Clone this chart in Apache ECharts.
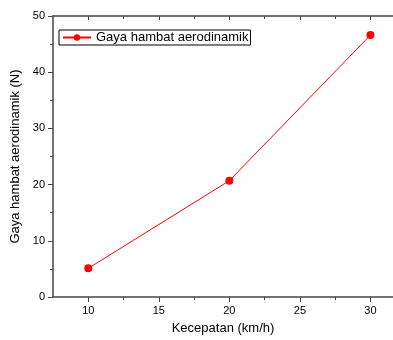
<!DOCTYPE html>
<html>
<head>
<meta charset="utf-8">
<script src="https://cdn.jsdelivr.net/npm/echarts@6/dist/echarts.min.js"></script>
<style>
  html, body { margin: 0; padding: 0; background: #fff; }
  #chart { width: 393px; height: 340px; }
</style>
</head>
<body>
<div id="chart"></div>
<script>
// data
var speed = [10, 20, 30];
var drag = [5.1, 20.7, 46.6];
var xMajorTicks = [10, 15, 20, 25, 30];
var xMinorTicks = [12.5, 17.5, 22.5, 27.5];
var seriesName = 'Gaya hambat aerodinamik';

var chart = echarts.init(document.getElementById('chart'));
var axisColor = '#444';
var font = 'Arial, "Liberation Sans", sans-serif';
var xMin = 7.5, xMax = 31.6; // plot is cut at the right edge of the image

chart.setOption({
  animation: false,
  grid: { left: 53, top: 16, bottom: 41, right: 0 },
  legend: {
    show: true,
    left: 59,
    top: 30,
    data: [seriesName],
    orient: 'horizontal',
    itemWidth: 28,
    itemHeight: 8,
    padding: [1, 2, 1, 3],
    borderColor: '#000',
    borderWidth: 1,
    borderRadius: 0,
    textStyle: { fontFamily: font, fontSize: 13, color: '#000' }
  },
  xAxis: [
    {
      // bottom axis, major ticks + labels
      type: 'value',
      min: xMin,
      max: xMax,
      position: 'bottom',
      name: 'Kecepatan (km/h)',
      nameLocation: 'middle',
      nameGap: 25,
      nameTextStyle: { fontFamily: font, fontSize: 13, color: '#000' },
      axisLine: { show: true, onZero: false, lineStyle: { color: axisColor, width: 1.5 } },
      axisTick: { show: true, length: 5, customValues: xMajorTicks, lineStyle: { color: axisColor } },
      axisLabel: { customValues: xMajorTicks, fontFamily: font, fontSize: 11, color: '#000', margin: 8 },
      splitLine: { show: false }
    },
    {
      // bottom axis, minor ticks
      type: 'value',
      min: xMin,
      max: xMax,
      position: 'bottom',
      axisLine: { show: false, onZero: false },
      axisTick: { show: true, length: 3, customValues: xMinorTicks, lineStyle: { color: axisColor } },
      axisLabel: { show: false },
      splitLine: { show: false }
    },
    {
      // top frame, inward ticks
      type: 'value',
      min: xMin,
      max: xMax,
      position: 'top',
      axisLine: { show: true, onZero: false, lineStyle: { color: axisColor, width: 1.5 } },
      axisTick: { show: true, inside: true, length: 4, customValues: xMajorTicks, lineStyle: { color: axisColor } },
      axisLabel: { show: false },
      splitLine: { show: false }
    },
    {
      type: 'value',
      min: xMin,
      max: xMax,
      position: 'top',
      axisLine: { show: false, onZero: false },
      axisTick: { show: true, inside: true, length: 3, customValues: xMinorTicks, lineStyle: { color: axisColor } },
      axisLabel: { show: false },
      splitLine: { show: false }
    }
  ],
  yAxis: {
    type: 'value',
    min: 0,
    max: 50,
    interval: 10,
    position: 'left',
    name: 'Gaya hambat aerodinamik (N)',
    nameLocation: 'middle',
    nameGap: 27,
    nameTextStyle: { fontFamily: font, fontSize: 13, color: '#000' },
    axisLine: { show: true, onZero: false, lineStyle: { color: axisColor, width: 1.5 } },
    axisTick: { show: true, length: 5, lineStyle: { color: axisColor } },
    minorTick: { show: true, splitNumber: 2, length: 3, lineStyle: { color: axisColor } },
    axisLabel: { fontFamily: font, fontSize: 11, color: '#000', margin: 8 },
    splitLine: { show: false }
  },
  series: [{
    name: seriesName,
    type: 'line',
    xAxisIndex: 0,
    data: speed.map(function (v, i) { return [v, drag[i]]; }),
    symbol: 'circle',
    symbolSize: 8,
    lineStyle: { color: '#ff0000', width: 1 },
    itemStyle: { color: '#ff0000' }
  }]
});
</script>
</body>
</html>
